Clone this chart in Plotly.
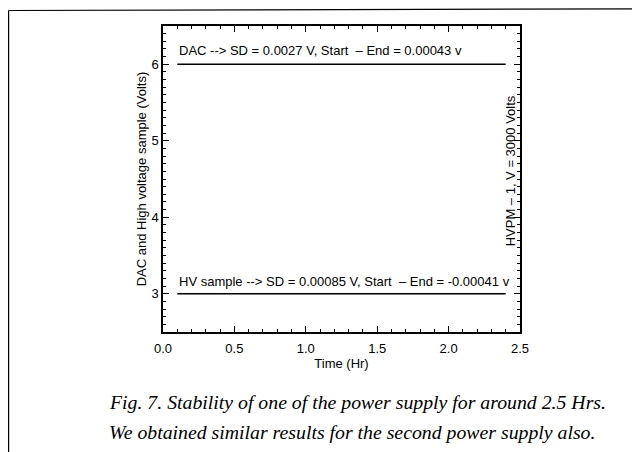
import plotly.graph_objects as go

# Data
time_hr = [0.1, 0.5, 1.0, 1.5, 2.0, 2.4]
dac_volts = [6.0, 6.0, 6.0, 6.0, 6.0, 6.0]
hv_volts = [3.0, 3.0, 3.0, 3.0, 3.0, 3.0]

dac_label = "DAC --> SD = 0.0027 V, Start  \u2013 End = 0.00043 v"
hv_label = "HV sample --> SD = 0.00085 V, Start  \u2013 End = -0.00041 v"
side_label = "HVPM \u2013 1, V = 3000 Volts"
x_title = "Time (Hr)"
y_title = "DAC and High voltage sample (Volts)"
caption1 = "Fig. 7. Stability of one of the power supply for around 2.5 Hrs."
caption2 = "We obtained similar results for the second power supply also."

FONT = "Liberation Sans, Arial, sans-serif"

# figure size / plot box (figure pixel coordinates; page body adds 8px offset)
W, H = 632, 444
L, R, T, B = 155, 120, 18, 120
PW, PH = W - L - R, H - T - B


def px_to_paper_x(px):
    return (px - L) / PW


def px_to_paper_y(py):
    return (H - B - py) / PH


fig = go.Figure()
fig.add_trace(go.Scatter(x=time_hr, y=dac_volts, mode="lines",
                         line=dict(color="black", width=1.7), showlegend=False))
fig.add_trace(go.Scatter(x=time_hr, y=hv_volts, mode="lines",
                         line=dict(color="black", width=1.7), showlegend=False))

axis_common = dict(
    showline=True, linecolor="black", linewidth=1.5, mirror="ticks",
    ticks="inside", ticklen=6, tickwidth=1, tickcolor="black",
    showgrid=False, zeroline=False,
    tickfont=dict(family=FONT, size=13, color="black"),
)

fig.update_xaxes(
    range=[0, 2.5], dtick=0.5, tick0=0, tickformat=".1f",
    minor=dict(dtick=0.1, ticklen=3, ticks="inside", tickcolor="black", showgrid=False),
    title=dict(text=x_title, font=dict(family=FONT, size=13, color="black"), standoff=2),
    ticklabelstandoff=4,
    **axis_common,
)
fig.update_yaxes(
    range=[2.5, 6.5], dtick=1, tick0=0,
    minor=dict(dtick=0.1, ticklen=3, ticks="inside", tickcolor="black", showgrid=False),
    title=dict(text=y_title, font=dict(family=FONT, size=13, color="black"), standoff=2),
    **axis_common,
)

fig.add_annotation(x=time_hr[0], y=dac_volts[0], xref="x", yref="y",
                   text=dac_label, showarrow=False, xanchor="left", yanchor="bottom",
                   yshift=4, font=dict(family=FONT, size=13, color="black"))
fig.add_annotation(x=time_hr[0], y=hv_volts[0], xref="x", yref="y",
                   text=hv_label, showarrow=False, xanchor="left", yanchor="bottom",
                   yshift=3, font=dict(family=FONT, size=13, color="black"))
fig.add_annotation(x=0.972, y=0.525, xref="paper", yref="paper",
                   text=side_label, showarrow=False, textangle=-90,
                   xanchor="center", yanchor="middle",
                   font=dict(family=FONT, size=13, color="black"))

CAP_FONT = dict(family="Liberation Serif, Times New Roman, serif", size=19.8, color="black", style="italic")
fig.add_annotation(x=px_to_paper_x(99), y=px_to_paper_y(394), xref="paper", yref="paper",
                   text="<i>" + caption1 + "</i>", showarrow=False,
                   xanchor="left", yanchor="middle", font=CAP_FONT)
fig.add_annotation(x=px_to_paper_x(99), y=px_to_paper_y(424), xref="paper", yref="paper",
                   text="<i>" + caption2 + "</i>", showarrow=False,
                   xanchor="left", yanchor="middle", font=CAP_FONT)

# page frame (scan border)
fig.add_shape(type="line", xref="paper", yref="paper",
              x0=px_to_paper_x(0.6), x1=px_to_paper_x(W),
              y0=px_to_paper_y(2.5), y1=px_to_paper_y(0.8),
              line=dict(color="black", width=1.2))
fig.add_shape(type="line", xref="paper", yref="paper",
              x0=px_to_paper_x(0.6), x1=px_to_paper_x(0.6),
              y0=px_to_paper_y(2.5), y1=px_to_paper_y(H),
              line=dict(color="black", width=1.2))

fig.update_layout(
    width=W, height=H,
    margin=dict(l=L, r=R, t=T, b=B),
    paper_bgcolor="white", plot_bgcolor="white",
    font=dict(family=FONT, color="black"),
    showlegend=False,
)

fig.write_html("out.html")
